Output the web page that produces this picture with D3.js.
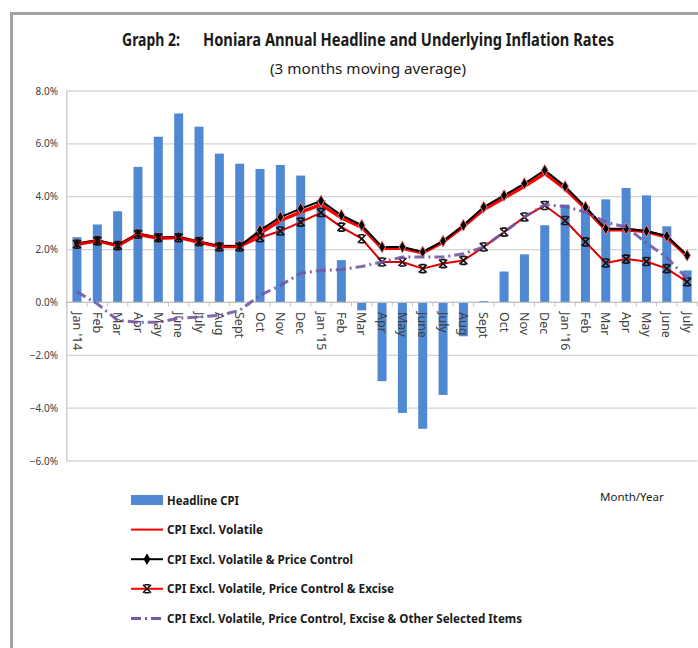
<!DOCTYPE html>
<html>
<head>
<meta charset="utf-8">
<script src="https://cdn.jsdelivr.net/npm/d3@7"></script>
<style>
  body { margin: 0; background: white; }
  svg { display: block; font-family: "Noto Sans", "Liberation Sans", sans-serif; }
</style>
</head>
<body>
<div id="container"></div>
<script>
// month labels, Jan '14 .. July '16
const months = ["Jan '14", "Feb", "Mar", "Apr", "May", "June", "July", "Aug", "Sept", "Oct", "Nov", "Dec",
                "Jan '15", "Feb", "Mar", "Apr", "May", "June", "July", "Aug", "Sept", "Oct", "Nov", "Dec",
                "Jan '16", "Feb", "Mar", "Apr", "May", "June", "July"];

const headline = [2.47, 2.95, 3.45, 5.13, 6.27, 7.15, 6.65, 5.63, 5.25, 5.05, 5.2, 4.8,
                  3.87, 1.6, -0.3, -2.98, -4.18, -4.78, -3.5, -1.28, 0.05, 1.17, 1.82, 2.92,
                  3.7, 3.65, 3.9, 4.33, 4.05, 2.88, 1.21];

const exclVolatile = [2.2, 2.33, 2.15, 2.58, 2.43, 2.46, 2.28, 2.12, 2.12, 2.62, 3.1, 3.42,
                      3.7, 3.2, 2.85, 2.05, 2.05, 1.88, 2.28, 2.88, 3.52, 3.95, 4.4, 4.88,
                      4.3, 3.55, 2.75, 2.75, 2.68, 2.47, 1.76];

const exclPriceControl = [2.22, 2.35, 2.16, 2.6, 2.45, 2.48, 2.3, 2.13, 2.13, 2.73, 3.23, 3.55,
                          3.84, 3.3, 2.92, 2.1, 2.1, 1.91, 2.32, 2.92, 3.61, 4.05, 4.5, 5.0,
                          4.39, 3.61, 2.79, 2.79, 2.7, 2.51, 1.78];

const exclExcise = [2.2, 2.33, 2.15, 2.58, 2.45, 2.45, 2.3, 2.1, 2.1, 2.45, 2.7, 3.04,
                    3.4, 2.85, 2.41, 1.53, 1.53, 1.28, 1.47, 1.59, 2.1, 2.66, 3.23, 3.67,
                    3.1, 2.29, 1.49, 1.64, 1.55, 1.28, 0.78];

const exclOther = [0.4, -0.05, -0.68, -0.75, -0.75, -0.6, -0.55, -0.49, -0.3, 0.27, 0.64, 1.11,
                   1.21, 1.25, 1.36, 1.53, 1.72, 1.72, 1.72, 1.84, 2.1, 2.66, 3.23, 3.7,
                   3.63, 3.42, 3.04, 2.85, 2.25, 1.7, 0.9];

const yTicks = [-6, -4, -2, 0, 2, 4, 6, 8];

const legendItems = [
    {name: "Headline CPI", type: "bar"},
    {name: "CPI Excl. Volatile", type: "red"},
    {name: "CPI Excl. Volatile & Price Control", type: "diamond"},
    {name: "CPI Excl. Volatile, Price Control & Excise", type: "star"},
    {name: "CPI Excl. Volatile, Price Control, Excise & Other Selected Items", type: "purple"}
];

const width = 698;
const height = 648;
const plotLeft = 66.8;
const plotRight = 697.3;
const plotTop = 91;
const plotBottom = 461;

const blue = "#4f88d3";
const purple = "#7458a4";

const svg = d3.select("#container").append("svg")
    .attr("width", width)
    .attr("height", height)
    .attr("viewBox", [0, 0, width, height]);

svg.append("rect").attr("width", width).attr("height", height).attr("fill", "white");

// outer frame
svg.append("rect")
    .attr("x", 11.5).attr("y", 13.5)
    .attr("width", 720).attr("height", 700)
    .attr("fill", "none")
    .attr("stroke", "#a3a3a3")
    .attr("stroke-width", 3);

const x = d3.scalePoint()
    .domain(d3.range(months.length))
    .range([plotLeft, plotRight])
    .padding(0.5);

const y = d3.scaleLinear()
    .domain([-6, 8])
    .range([plotBottom, plotTop]);

// titles
svg.append("text")
    .attr("x", 122).attr("y", 46)
    .attr("font-size", 17).attr("font-weight", "bold").attr("fill", "#1a1a1a")
    .attr("textLength", 58).attr("lengthAdjust", "spacingAndGlyphs")
    .text("Graph 2:");
svg.append("text")
    .attr("x", 203).attr("y", 46)
    .attr("font-size", 17).attr("font-weight", "bold").attr("fill", "#1a1a1a")
    .attr("textLength", 411).attr("lengthAdjust", "spacingAndGlyphs")
    .text("Honiara Annual Headline and Underlying Inflation Rates");
svg.append("text")
    .attr("x", 270).attr("y", 74)
    .attr("font-size", 15).attr("fill", "#1a1a1a")
    .attr("textLength", 196).attr("lengthAdjust", "spacingAndGlyphs")
    .text("(3 months moving average)");

// gridlines + y labels
svg.append("g")
    .selectAll("line")
    .data(yTicks)
    .join("line")
    .attr("x1", plotLeft).attr("x2", plotRight)
    .attr("y1", d => y(d)).attr("y2", d => y(d))
    .attr("stroke", "#d4d4d4")
    .attr("stroke-width", 1.3);

svg.append("g")
    .attr("font-size", 10)
    .attr("fill", "#404040")
    .attr("text-anchor", "end")
    .selectAll("text")
    .data(yTicks)
    .join("text")
    .attr("x", 58)
    .attr("y", d => y(d))
    .attr("dy", "0.35em")
    .text(d => d3.format(".1f")(d) + "%");

svg.append("line")
    .attr("x1", plotLeft).attr("x2", plotLeft)
    .attr("y1", plotTop).attr("y2", plotBottom)
    .attr("stroke", "#c8c8c8").attr("stroke-width", 1.3);

// bars
const bw = 9;
svg.append("g")
    .attr("fill", blue)
    .selectAll("rect")
    .data(headline)
    .join("rect")
    .attr("x", (d, i) => x(i) - bw / 2)
    .attr("y", d => y(Math.max(0, d)))
    .attr("width", bw)
    .attr("height", d => Math.abs(y(d) - y(0)));

// zero axis with ticks between categories
svg.append("line")
    .attr("x1", plotLeft).attr("x2", plotRight)
    .attr("y1", y(0)).attr("y2", y(0))
    .attr("stroke", "#c4c4c4").attr("stroke-width", 1.3);
svg.append("g")
    .selectAll("line")
    .data(d3.range(months.length + 1))
    .join("line")
    .attr("x1", i => plotLeft + i * x.step()).attr("x2", i => plotLeft + i * x.step())
    .attr("y1", y(0)).attr("y2", y(0) + 4)
    .attr("stroke", "#c4c4c4");

// month labels (rotated)
svg.append("g")
    .attr("font-size", 12.5)
    .attr("fill", "#404040")
    .selectAll("text")
    .data(months)
    .join("text")
    .attr("transform", (d, i) => `translate(${x(i)},312) rotate(90)`)
    .attr("dy", "0.35em")
    .text(d => d);

const line = d3.line()
    .x((d, i) => x(i))
    .y(d => y(d));

const diamond = d3.symbol().type(d3.symbolDiamond).size(40);
const starPath = "M-4,-4L4,4M-4,4L4,-4M-2.5,-4H2.5M-2.5,4H2.5";

// red: excl volatile
svg.append("path")
    .datum(exclVolatile)
    .attr("fill", "none").attr("stroke", "#ff0000").attr("stroke-width", 3.5)
    .attr("stroke-linejoin", "round")
    .attr("d", line);

// black with diamonds: excl volatile & price control
svg.append("path")
    .datum(exclPriceControl)
    .attr("fill", "none").attr("stroke", "black").attr("stroke-width", 2)
    .attr("stroke-linejoin", "round")
    .attr("d", line);
svg.append("g")
    .selectAll("path")
    .data(exclPriceControl)
    .join("path")
    .attr("transform", (d, i) => `translate(${x(i)},${y(d)})`)
    .attr("d", diamond)
    .attr("fill", "black")
    .attr("stroke", "#f08080").attr("stroke-width", 1);

// red with stars: excl excise
svg.append("path")
    .datum(exclExcise)
    .attr("fill", "none").attr("stroke", "#e00000").attr("stroke-width", 2)
    .attr("stroke-linejoin", "round")
    .attr("d", line);
svg.append("g")
    .selectAll("path")
    .data(exclExcise)
    .join("path")
    .attr("transform", (d, i) => `translate(${x(i)},${y(d)})`)
    .attr("d", starPath)
    .attr("fill", "none")
    .attr("stroke", "#111").attr("stroke-width", 1.6);

// purple dash-dot: excl other selected items
svg.append("path")
    .datum(exclOther)
    .attr("fill", "none").attr("stroke", purple).attr("stroke-width", 3)
    .attr("stroke-dasharray", "10,4,2,4")
    .attr("opacity", 0.9)
    .attr("d", line);

// legend
const legend = svg.append("g")
    .selectAll("g")
    .data(legendItems)
    .join("g")
    .attr("transform", (d, i) => `translate(131,${500 + i * 29.6})`);

legend.each(function(d) {
    const g = d3.select(this);
    if (d.type === "bar") {
        g.append("rect").attr("x", 0).attr("y", -5).attr("width", 32).attr("height", 10).attr("fill", blue);
    } else if (d.type === "purple") {
        g.append("line").attr("x1", 0).attr("x2", 32)
            .attr("stroke", purple).attr("stroke-width", 3).attr("stroke-dasharray", "10,4,2,4");
    } else {
        g.append("line").attr("x1", 0).attr("x2", 32)
            .attr("stroke", d.type === "diamond" ? "black" : "red").attr("stroke-width", 2);
        if (d.type === "diamond") {
            g.append("path").attr("transform", "translate(16,0)").attr("d", diamond).attr("fill", "black");
        }
        if (d.type === "star") {
            g.append("path").attr("transform", "translate(16,0)").attr("d", starPath)
                .attr("fill", "none").attr("stroke", "#111").attr("stroke-width", 1.6);
        }
    }
});

const legendWidths = [72, 96, 186, 227, 355];
legend.append("text")
    .attr("x", 36)
    .attr("dy", "0.35em")
    .attr("font-size", 13)
    .attr("font-weight", "bold")
    .attr("fill", "#1a1a1a")
    .attr("textLength", (d, i) => legendWidths[i])
    .attr("lengthAdjust", "spacingAndGlyphs")
    .text(d => d.name);

svg.append("text")
    .attr("x", 600).attr("y", 497)
    .attr("dy", "0.35em")
    .attr("font-size", 11.5)
    .attr("fill", "#1a1a1a")
    .text("Month/Year");
</script>
</body>
</html>
